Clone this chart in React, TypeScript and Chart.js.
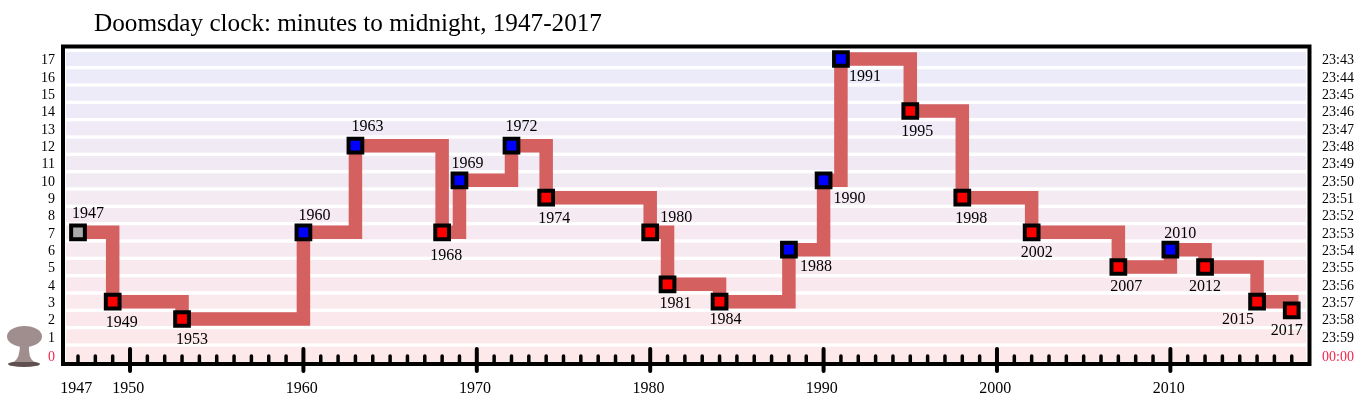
import { useEffect, useRef } from 'react'
import { Chart, registerables } from 'chart.js'

Chart.register(...registerables)

const years = [1947, 1949, 1953, 1960, 1963, 1968, 1969, 1972, 1974, 1980, 1981, 1984, 1988, 1990, 1991, 1995, 1998, 2002, 2007, 2010, 2012, 2015, 2017]
const minutes = [7, 3, 2, 7, 12, 7, 10, 12, 9, 7, 4, 3, 6, 10, 17, 14, 9, 7, 5, 6, 5, 3, 2.5]
const pointColors = ['#aaaaaa', 'red', 'red', 'blue', 'blue', 'red', 'blue', 'blue', 'red', 'red', 'red', 'red', 'blue', 'blue', 'blue', 'red', 'red', 'red', 'red', 'blue', 'red', 'red', 'red']
// where each year label sits relative to its marker, in px
const labelDx = [10, 9, 10, 11, 12, 4, 8, 10, 8, 26, 8, 6, 27, 26, 24, 7, 9, 5, 8, 10, 0, -19, -5]
const labelDy = [-19, 21, 21, -17, -19, 23, -17, -19, 21, -15, 19, 18, 17, 18, 18, 21, 21, 20, 20, -16, 20, 18, 20]

const yearTicks = [1947, 1950, 1960, 1970, 1980, 1990, 2000, 2010]
const minuteTicks = [0, 1, 2, 3, 4, 5, 6, 7, 8, 9, 10, 11, 12, 13, 14, 15, 16, 17]
const clockLabels = ['00:00', '23:59', '23:58', '23:57', '23:56', '23:55', '23:54', '23:53', '23:52', '23:51', '23:50', '23:49', '23:48', '23:47', '23:46', '23:45', '23:44', '23:43']

const SERIF = '"Liberation Serif", "Times New Roman", serif'
const RED_LABEL = '#f5224a'

// pale stripes behind the line, lavender at the top fading to pink
const bandsPlugin = {
  id: 'bands',
  beforeDatasetsDraw(chart: Chart) {
    const { ctx, chartArea, scales } = chart
    const y = scales.y
    const x0 = chartArea.left + 1
    const w = chartArea.right - chartArea.left - 2
    ctx.save()
    minuteTicks.forEach((m) => {
      const t = m / 17
      const r = Math.round(253 + (235 - 253) * t)
      const g = Math.round(232 + (235 - 232) * t)
      const b = Math.round(234 + (250 - 234) * t)
      ctx.fillStyle = `rgb(${r},${g},${b})`
      const py = y.getPixelForValue(m)
      const top = py - 7
      // the zero stripe runs down to the axis
      const h = m === 0 ? chartArea.bottom - top : 14
      ctx.fillRect(x0, top, w, h)
    })
    ctx.restore()
  },
}

const decorPlugin = {
  id: 'decor',
  afterDatasetsDraw(chart: Chart) {
    const { ctx, chartArea, scales } = chart
    const x = scales.x
    const y = scales.y
    ctx.save()

    // year ticks
    ctx.strokeStyle = '#000'
    ctx.lineCap = 'round'
    for (let yr = 1947; yr <= 2017; yr++) {
      const px = x.getPixelForValue(yr)
      const major = yr % 10 === 0
      ctx.lineWidth = major ? 4 : 3.5
      ctx.beginPath()
      ctx.moveTo(px, major ? chartArea.bottom - 13 : chartArea.bottom - 6)
      ctx.lineTo(px, major ? chartArea.bottom + 9 : chartArea.bottom)
      ctx.stroke()
    }

    // frame
    ctx.lineCap = 'butt'
    ctx.lineJoin = 'miter'
    ctx.lineWidth = 4
    ctx.strokeRect(63, 46.5, 1246.5, 317.5)

    // year labels next to the markers
    ctx.fillStyle = '#000'
    ctx.font = `16px ${SERIF}`
    ctx.textAlign = 'center'
    ctx.textBaseline = 'middle'
    years.forEach((yr, i) => {
      ctx.fillText(String(yr), x.getPixelForValue(yr) + labelDx[i], y.getPixelForValue(minutes[i]) + labelDy[i])
    })

    // title
    ctx.font = `25.2px ${SERIF}`
    ctx.textAlign = 'left'
    ctx.textBaseline = 'alphabetic'
    ctx.fillText('Doomsday clock: minutes to midnight, 1947-2017', 94, 31)

    // mushroom cloud
    ctx.fillStyle = '#5f4f4f'
    ctx.beginPath()
    ctx.ellipse(24, 364, 16, 3, 0, 0, Math.PI * 2)
    ctx.fill()
    ctx.fillStyle = '#a08e8e'
    ctx.beginPath()
    ctx.moveTo(20, 344)
    ctx.lineTo(29, 344)
    ctx.quadraticCurveTo(28, 358, 34, 362)
    ctx.lineTo(14, 362)
    ctx.quadraticCurveTo(20, 358, 20, 344)
    ctx.fill()
    ctx.beginPath()
    ctx.ellipse(24.5, 336.5, 17.5, 10.5, 0, 0, Math.PI * 2)
    ctx.fill()
    ctx.restore()
  },
}

// the tick labels sit a little below the stripes, zero lower still
const labelTicks = (s: any) => {
  s.ticks = minuteTicks.map((m) => ({ value: m === 0 ? -0.1 : m }))
}

export default function App() {
  const chartRef = useRef<HTMLCanvasElement>(null)

  useEffect(() => {
    if (!chartRef.current) return
    const chart = new Chart(chartRef.current, {
      type: 'line',
      data: {
        datasets: [
          {
            data: years.map((yr, i) => ({ x: yr, y: minutes[i] })),
            xAxisID: 'x',
            yAxisID: 'y',
            stepped: true,
            borderColor: '#d46060',
            borderWidth: 13.5,
            borderJoinStyle: 'miter',
            borderCapStyle: 'butt',
            pointStyle: 'rect',
            pointRadius: 9.7,
            pointBorderWidth: 4,
            pointBorderColor: '#000',
            pointBackgroundColor: pointColors,
            fill: false,
          },
        ],
      },
      options: {
        animation: false,
        responsive: false,
        layout: { padding: { top: 48, left: 0, right: 0, bottom: 0 } },
        plugins: { legend: { display: false }, tooltip: { enabled: false } },
        scales: {
          x: {
            type: 'linear',
            display: false,
            min: 1946.25,
            max: 2017.88,
          },
          // labels only, nudged slightly left of their ticks
          xLabels: {
            type: 'linear',
            position: 'bottom',
            min: 1946.35,
            max: 2017.98,
            grid: { display: false, drawTicks: false },
            border: { display: false },
            afterBuildTicks: (s: any) => {
              s.ticks = yearTicks.map((value) => ({ value }))
            },
            afterFit: (s: any) => {
              s.height = 48
            },
            ticks: {
              autoSkip: false,
              maxRotation: 0,
              padding: 17,
              color: '#000',
              font: { family: SERIF, size: 16 },
              callback: (v: any) => String(v),
            },
          },
          y: {
            type: 'linear',
            display: false,
            min: -0.48,
            max: 17.635,
          },
          yLeft: {
            type: 'linear',
            position: 'left',
            min: -0.393,
            max: 17.722,
            grid: { display: false, drawTicks: false },
            border: { display: false },
            afterBuildTicks: labelTicks,
            afterFit: (s: any) => {
              s.width = 65
            },
            ticks: {
              autoSkip: false,
              padding: 10,
              color: (c: any) => (c.tick.value <= 0 ? RED_LABEL : '#000'),
              font: { family: SERIF, size: 14 },
              callback: (v: any) => String(Math.max(Math.round(v), 0)),
            },
          },
          yRight: {
            type: 'linear',
            position: 'right',
            min: -0.393,
            max: 17.722,
            grid: { display: false, drawTicks: false },
            border: { display: false },
            afterBuildTicks: labelTicks,
            afterFit: (s: any) => {
              s.width = 58
            },
            ticks: {
              autoSkip: false,
              padding: 15,
              color: (c: any) => (c.tick.value <= 0 ? RED_LABEL : '#000'),
              font: { family: SERIF, size: 14 },
              callback: (v: any) => clockLabels[Math.max(Math.round(v), 0)],
            },
          },
        },
      },
      plugins: [bandsPlugin, decorPlugin],
    } as any)
    return () => {
      chart.destroy()
    }
  }, [])

  return (
    <div style={{ position: 'absolute', left: 0, top: 0, width: 1365, height: 410 }}>
      <canvas ref={chartRef} width={1365} height={410} style={{ display: 'block' }}></canvas>
    </div>
  )
}
